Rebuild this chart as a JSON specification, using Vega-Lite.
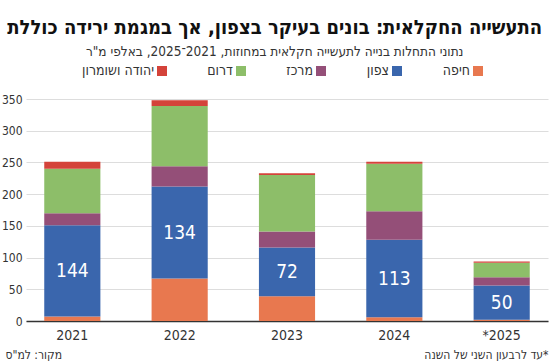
{
  "$schema": "https://vega.github.io/schema/vega-lite/v6.json",
  "width": 522,
  "height": 222,
  "autosize": "none",
  "padding": {"left": 26, "top": 99, "right": 2, "bottom": 41},
  "background": "white",
  "config": {
    "font": "Liberation Sans Narrow, DejaVu Sans Condensed, sans-serif",
    "view": {"stroke": null}
  },
  "title": {
    "text": "התעשייה החקלאית: בונים בעיקר בצפון, אך במגמת ירידה כוללת",
    "subtitle": "נתוני התחלות בנייה לתעשייה חקלאית במחוזות, 2021־2025, באלפי מ\"ר",
    "anchor": "middle",
    "frame": "bounds",
    "fontSize": 20,
    "fontWeight": "bold",
    "color": "#111111",
    "subtitleFontSize": 13.5,
    "subtitleColor": "#333333",
    "subtitlePadding": 7,
    "offset": 6
  },
  "data": {
    "values": [
      {"year": "2021", "region": "חיפה", "idx": 1, "value": 7},
      {"year": "2021", "region": "צפון", "idx": 2, "value": 144, "label": "144"},
      {"year": "2021", "region": "מרכז", "idx": 3, "value": 19},
      {"year": "2021", "region": "דרום", "idx": 4, "value": 70},
      {"year": "2021", "region": "יהודה ושומרון", "idx": 5, "value": 11},
      {"year": "2022", "region": "חיפה", "idx": 1, "value": 67},
      {"year": "2022", "region": "צפון", "idx": 2, "value": 145, "label": "134"},
      {"year": "2022", "region": "מרכז", "idx": 3, "value": 32},
      {"year": "2022", "region": "דרום", "idx": 4, "value": 95},
      {"year": "2022", "region": "יהודה ושומרון", "idx": 5, "value": 9},
      {"year": "2023", "region": "חיפה", "idx": 1, "value": 39},
      {"year": "2023", "region": "צפון", "idx": 2, "value": 77, "label": "72"},
      {"year": "2023", "region": "מרכז", "idx": 3, "value": 25},
      {"year": "2023", "region": "דרום", "idx": 4, "value": 89},
      {"year": "2023", "region": "יהודה ושומרון", "idx": 5, "value": 3},
      {"year": "2024", "region": "חיפה", "idx": 1, "value": 6},
      {"year": "2024", "region": "צפון", "idx": 2, "value": 122, "label": "113"},
      {"year": "2024", "region": "מרכז", "idx": 3, "value": 45},
      {"year": "2024", "region": "דרום", "idx": 4, "value": 75},
      {"year": "2024", "region": "יהודה ושומרון", "idx": 5, "value": 3},
      {"year": "*2025", "region": "חיפה", "idx": 1, "value": 2},
      {"year": "*2025", "region": "צפון", "idx": 2, "value": 54, "label": "50"},
      {"year": "*2025", "region": "מרכז", "idx": 3, "value": 13},
      {"year": "*2025", "region": "דרום", "idx": 4, "value": 23},
      {"year": "*2025", "region": "יהודה ושומרון", "idx": 5, "value": 2}
    ]
  },
  "transform": [
    {"stack": "value", "groupby": ["year"], "sort": [{"field": "idx", "order": "ascending"}], "as": ["v0", "v1"]}
  ],
  "encoding": {
    "x": {
      "field": "year",
      "type": "nominal",
      "sort": null,
      "scale": {"paddingInner": 0.477, "paddingOuter": 0.17},
      "axis": {
        "labelAngle": 0,
        "labelFontSize": 14,
        "labelColor": "#333333",
        "labelPadding": 7,
        "ticks": false,
        "domainColor": "#333333",
        "domainWidth": 1.5,
        "title": "‏*עד לרבעון השני של השנה",
        "titleFontSize": 12,
        "titleFontWeight": "normal",
        "titleColor": "#333333",
        "titleAnchor": "end",
        "titleAlign": "right",
        "titleBaseline": "alphabetic",
        "titleX": 522,
        "titleY": 37
      }
    }
  },
  "layer": [
    {
      "mark": {"type": "bar"},
      "encoding": {
        "y": {
          "field": "v0",
          "type": "quantitative",
          "scale": {"domain": [0, 350], "nice": false},
          "axis": {
            "values": [0, 50, 100, 150, 200, 250, 300, 350],
            "labelOverlap": false,
            "domain": false,
            "ticks": false,
            "labelFontSize": 12,
            "labelColor": "#333333",
            "labelPadding": 4,
            "gridColor": "#dddddd",
            "gridWidth": 1,
            "title": "מקור: למ\"ס",
            "titleAngle": 0,
            "titleFontSize": 12,
            "titleFontWeight": "normal",
            "titleColor": "#333333",
            "titleAlign": "left",
            "titleBaseline": "alphabetic",
            "titleX": -21,
            "titleY": 259
          }
        },
        "y2": {"field": "v1"},
        "color": {
          "field": "region",
          "type": "nominal",
          "scale": {
            "domain": ["יהודה ושומרון", "דרום", "מרכז", "צפון", "חיפה"],
            "range": ["#d4433a", "#8dbe69", "#944f78", "#3a66ad", "#e8784f"]
          },
          "legend": {
            "title": null,
            "orient": "none",
            "direction": "horizontal",
            "legendX": 129,
            "legendY": -35,
            "symbolType": "square",
            "symbolSize": 100,
            "symbolStrokeWidth": 0,
            "symbolOpacity": 1,
            "labelFontSize": 14,
            "labelColor": "#333333",
            "labelAlign": "right",
            "labelOffset": -15,
            "columnPadding": 40
          }
        }
      }
    },
    {
      "transform": [
        {"filter": {"field": "region", "equal": "צפון"}},
        {"fold": ["v0", "v1"], "as": ["k", "pos"]},
        {"aggregate": [{"op": "mean", "field": "pos", "as": "mid"}], "groupby": ["year", "label"]}
      ],
      "mark": {"type": "text", "color": "white", "fontSize": 19, "baseline": "middle"},
      "encoding": {
        "y": {
          "field": "mid",
          "type": "quantitative",
          "scale": {"domain": [0, 350], "nice": false},
          "axis": {
            "values": [0, 50, 100, 150, 200, 250, 300, 350],
            "labelOverlap": false,
            "domain": false,
            "ticks": false,
            "labelFontSize": 12,
            "labelColor": "#333333",
            "labelPadding": 4,
            "gridColor": "#dddddd",
            "gridWidth": 1,
            "title": "מקור: למ\"ס",
            "titleAngle": 0,
            "titleFontSize": 12,
            "titleFontWeight": "normal",
            "titleColor": "#333333",
            "titleAlign": "left",
            "titleBaseline": "alphabetic",
            "titleX": -21,
            "titleY": 259
          }
        },
        "text": {"field": "label"}
      }
    }
  ]
}
